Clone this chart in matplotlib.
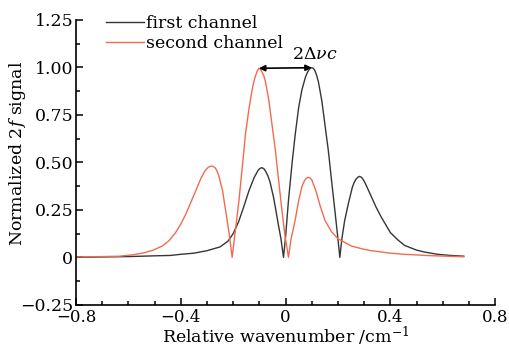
import matplotlib
matplotlib.use("Agg")
import matplotlib.pyplot as plt
from matplotlib.ticker import MultipleLocator, FixedLocator

plt.rcParams["font.family"] = ["DejaVu Serif"]
plt.rcParams["mathtext.fontset"] = "dejavuserif"

# first channel (black)
x_first = [-0.80, -0.70, -0.60, -0.50, -0.44, -0.40, -0.35, -0.30, -0.25, -0.22,
           -0.20, -0.18, -0.16, -0.14, -0.12, -0.112, -0.105, -0.098, -0.09, -0.082,
           -0.075, -0.068, -0.06, -0.045, -0.03, -0.018, -0.008, 0.000, 0.011, 0.025,
           0.037, 0.050, 0.062, 0.075, 0.082, 0.088, 0.094, 0.100, 0.106, 0.112,
           0.118, 0.125, 0.138, 0.150, 0.163, 0.175, 0.188, 0.198, 0.207, 0.215,
           0.225, 0.239, 0.255, 0.262, 0.268, 0.275, 0.282, 0.289, 0.295, 0.302,
           0.310, 0.327, 0.345, 0.365, 0.40, 0.43, 0.454, 0.50, 0.53, 0.58,
           0.63, 0.68]
y_first = [0.000, 0.002, 0.004, 0.008, 0.010, 0.016, 0.022, 0.035, 0.055, 0.085,
           0.125, 0.185, 0.265, 0.350, 0.420, 0.440, 0.458, 0.468, 0.472, 0.465,
           0.450, 0.430, 0.400, 0.310, 0.190, 0.100, 0.000, 0.110, 0.300, 0.500,
           0.650, 0.790, 0.880, 0.945, 0.970, 0.985, 0.995, 0.998, 0.995, 0.982,
           0.960, 0.925, 0.826, 0.700, 0.563, 0.410, 0.247, 0.120, 0.000, 0.100,
           0.190, 0.280, 0.370, 0.395, 0.410, 0.421, 0.426, 0.422, 0.412, 0.395,
           0.372, 0.320, 0.265, 0.212, 0.130, 0.090, 0.063, 0.038, 0.028, 0.016,
           0.010, 0.006]

# second channel (red)
x_second = [-0.80, -0.70, -0.633, -0.58, -0.54, -0.507, -0.47, -0.444, -0.42, -0.40,
            -0.38, -0.36, -0.342, -0.325, -0.31, -0.302, -0.295, -0.288, -0.282, -0.275,
            -0.268, -0.262, -0.255, -0.241, -0.228, -0.215, -0.204, -0.19, -0.178, -0.165,
            -0.153, -0.14, -0.128, -0.121, -0.115, -0.108, -0.102, -0.096, -0.09, -0.083,
            -0.077, -0.064, -0.052, -0.039, -0.027, -0.014, -0.002, 0.011, 0.020, 0.037,
            0.050, 0.062, 0.068, 0.075, 0.081, 0.087, 0.093, 0.100, 0.106, 0.113,
            0.120, 0.130, 0.150, 0.175, 0.20, 0.25, 0.30, 0.327, 0.40, 0.454,
            0.55, 0.68]
y_second = [0.002, 0.004, 0.006, 0.014, 0.024, 0.037, 0.060, 0.089, 0.130, 0.175,
            0.230, 0.295, 0.353, 0.410, 0.450, 0.465, 0.474, 0.479, 0.480, 0.478,
            0.470, 0.455, 0.430, 0.353, 0.240, 0.120, 0.000, 0.160, 0.300, 0.480,
            0.650, 0.780, 0.880, 0.925, 0.955, 0.982, 0.995, 0.990, 0.975, 0.955,
            0.925, 0.826, 0.700, 0.563, 0.410, 0.247, 0.110, 0.000, 0.090, 0.200,
            0.300, 0.370, 0.392, 0.410, 0.418, 0.421, 0.418, 0.408, 0.385, 0.360,
            0.330, 0.280, 0.195, 0.135, 0.098, 0.060, 0.042, 0.035, 0.022, 0.016,
            0.009, 0.003]

x_ticks = [-0.8, -0.4, 0, 0.4, 0.8]
x_ticklabels = ["\u22120.8", "\u22120.4", "0", "0.4", "0.8"]
y_ticks = [-0.25, 0, 0.25, 0.5, 0.75, 1.0, 1.25]
y_ticklabels = ["\u22120.25", "0", "0.25", "0.50", "0.75", "1.00", "1.25"]

BLACK = "#363636"
RED = "#f26b50"
FS = 12.5

fig = plt.figure(figsize=(5.1, 3.48), dpi=100)
ax = fig.add_axes([0.149, 0.124, 0.822, 0.819])

ax.plot(x_first, y_first, color=BLACK, lw=1.0, label="first channel")
ax.plot(x_second, y_second, color=RED, lw=1.0, label="second channel")

# peak separation arrow, between the two main peaks
i1 = y_first.index(max(y_first))
i2 = y_second.index(max(y_second))
ax.annotate("", xy=(x_first[i1], y_first[i1]), xytext=(x_second[i2], y_second[i2]),
            arrowprops=dict(arrowstyle="<|-|>", color="black", lw=1.2,
                            shrinkA=0, shrinkB=0, mutation_scale=9))
ax.text(0.11, 1.065, "2\u0394$\\nu c$", ha="center", va="center", fontsize=FS)

ax.set_xlim(-0.8, 0.8)
ax.set_ylim(-0.25, 1.25)
ax.xaxis.set_major_locator(FixedLocator(x_ticks))
ax.set_xticklabels(x_ticklabels)
ax.yaxis.set_major_locator(FixedLocator(y_ticks))
ax.set_yticklabels(y_ticklabels)
ax.xaxis.set_minor_locator(MultipleLocator(0.1))
ax.yaxis.set_minor_locator(MultipleLocator(0.125))
ax.tick_params(which="both", direction="in", labelsize=FS, width=1.1)
ax.tick_params(which="major", length=5)
ax.tick_params(which="minor", length=3)
ax.tick_params(axis="y", pad=2)
ax.tick_params(axis="x", pad=3, labelsize=12)

for side in ("top", "right"):
    ax.spines[side].set_visible(False)
for side in ("left", "bottom"):
    ax.spines[side].set_linewidth(1.2)

ax.set_xlabel("Relative wavenumber /cm$^{-1}$", fontsize=FS, labelpad=-1)
ax.set_ylabel("Normalized 2$f$ signal", fontsize=FS)
ax.yaxis.set_label_coords(-0.115, 0.53)

ax.legend(loc="upper left", bbox_to_anchor=(0.055, 1.04), frameon=False,
          fontsize=FS, handlelength=2.2, handletextpad=0.1, labelspacing=0.15,
          borderaxespad=0)

fig.savefig("out.png", dpi=100)
